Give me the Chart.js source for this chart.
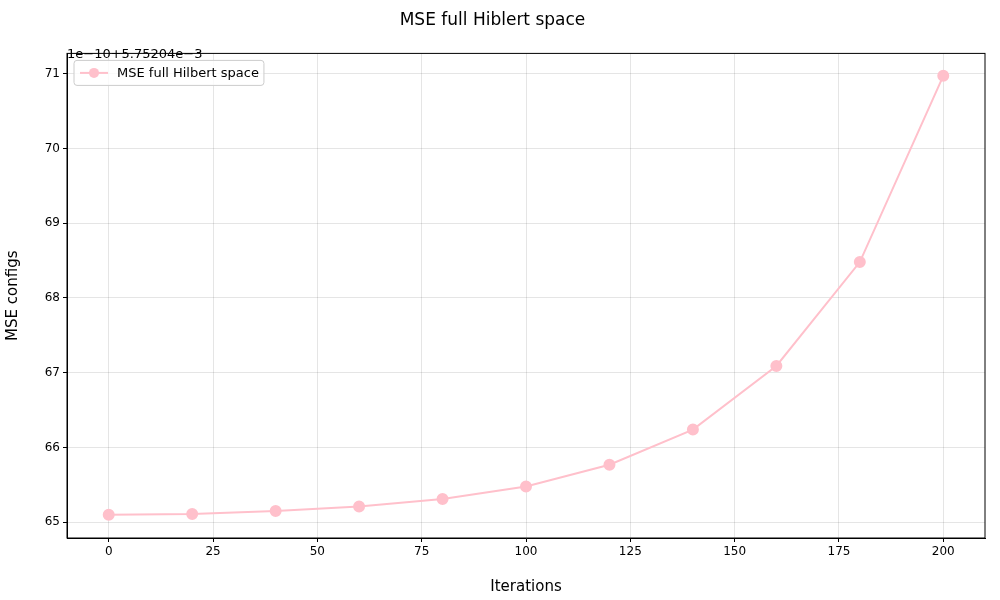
<!DOCTYPE html>
<html>
<head>
<meta charset="utf-8">
<script src="https://cdn.jsdelivr.net/npm/chart.js@4"></script>
<style>
  body { margin: 0; background: #fff; }
  #wrap { position: relative; width: 1000px; height: 600px; }
  #offset { position: absolute; left: 67px; top: 46px; font: 13px "DejaVu Sans"; color: #000; }
</style>
</head>
<body>
<div id="wrap">
  <canvas id="chart" width="1000" height="600"></canvas>
  <div id="offset">1e&minus;10+5.75204e&minus;3</div>
</div>
<script>
// values shown relative to offset 5.75204e-3, in units of 1e-10
let iterations = [0, 20, 40, 60, 80, 100, 120, 140, 160, 180, 200]
let mse = [65.10, 65.11, 65.15, 65.21, 65.31, 65.48, 65.77, 66.24, 67.09, 68.48, 70.97]
let yTicks = [65, 66, 67, 68, 69, 70, 71]
let xTicks = [0, 25, 50, 75, 100, 125, 150, 175, 200]
let seriesLabel = 'MSE full Hilbert space'

Chart.defaults.font.family = "DejaVu Sans"
Chart.defaults.color = "#000"

// frame round the plot area plus a matplotlib-like legend box inside it
let framePlugin = {
    id: 'frame',
    afterDraw(chart) {
        let {ctx, chartArea: a} = chart
        ctx.save()
        ctx.strokeStyle = '#000'
        ctx.lineWidth = 1
        ctx.strokeRect(a.left, a.top, a.right - a.left, a.bottom - a.top)
        let x = a.left + 7, y = a.top + 7
        ctx.font = '13px "DejaVu Sans"'
        let w = 40 + ctx.measureText(seriesLabel).width + 8
        ctx.fillStyle = 'rgba(255,255,255,0.8)'
        ctx.strokeStyle = '#ccc'
        ctx.beginPath()
        ctx.roundRect(x, y, w, 25, 3)
        ctx.fill(); ctx.stroke()
        ctx.strokeStyle = 'pink'; ctx.lineWidth = 2
        ctx.beginPath(); ctx.moveTo(x + 6, y + 12.5); ctx.lineTo(x + 34, y + 12.5); ctx.stroke()
        ctx.fillStyle = 'pink'
        ctx.beginPath(); ctx.arc(x + 20, y + 12.5, 5, 0, Math.PI * 2); ctx.fill()
        ctx.fillStyle = '#000'; ctx.textBaseline = 'middle'
        ctx.fillText(seriesLabel, x + 43, y + 13)
        ctx.restore()
    }
}

new Chart(document.getElementById("chart"), {
    type: 'line',
    data: {
        datasets: [{
            label: seriesLabel,
            data: iterations.map((x, i) => ({x, y: mse[i]})),
            borderColor: 'pink',
            backgroundColor: 'pink',
            borderWidth: 2,
            pointRadius: 5,
            pointHoverRadius: 5,
            tension: 0
        }]
    },
    plugins: [framePlugin],
    options: {
        responsive: false,
        animation: false,
        layout: { padding: { left: 0, right: 15, top: 0, bottom: 0 } },
        plugins: {
            title: {
                display: true, text: 'MSE full Hiblert space',
                font: { size: 17, weight: 'normal' },
                padding: { top: 10, bottom: 23 }
            },
            legend: { display: false },
            tooltip: { enabled: false }
        },
        scales: {
            x: {
                type: 'linear', min: -10, max: 210,
                afterBuildTicks: ax => { ax.ticks = xTicks.map(v => ({value: v})) },
                afterFit: ax => { ax.height = 62 },
                title: { display: true, text: 'Iterations', font: { size: 15 } },
                grid: { color: 'rgba(0,0,0,0.1)', tickColor: '#000', tickLength: 4 },
                border: { color: '#000' },
                ticks: { font: { size: 12 } }
            },
            y: {
                type: 'linear', min: 64.79, max: 71.27,
                afterBuildTicks: ax => { ax.ticks = yTicks.map(v => ({value: v})) },
                afterFit: ax => { ax.width = 67 },
                title: { display: true, text: 'MSE configs', font: { size: 15 } },
                grid: { color: 'rgba(0,0,0,0.1)', tickColor: '#000', tickLength: 4 },
                border: { color: '#000' },
                ticks: { font: { size: 12 } }
            }
        }
    }
})
</script>
</body>
</html>
